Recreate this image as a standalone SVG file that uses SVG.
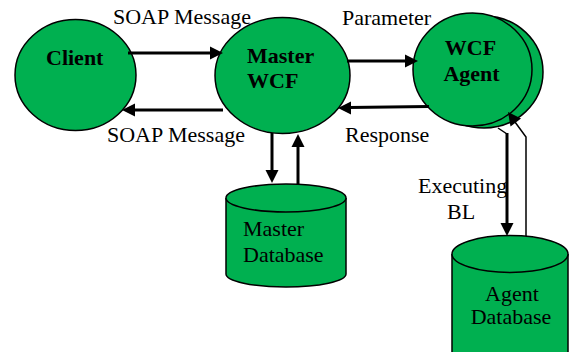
<svg xmlns="http://www.w3.org/2000/svg" width="572" height="352" viewBox="0 0 572 352">
  <style>
    .node { fill: #00b050; stroke: #000; stroke-width: 1.5; }
    .bold { font-family: "Liberation Serif", "Times New Roman", serif; font-size: 22px; font-weight: bold; fill: #000; }
    .lbl { font-family: "Liberation Serif", "Times New Roman", serif; font-size: 22px; fill: #000; }
    .wire { stroke: #000; stroke-width: 3; fill: none; }
    .thin { stroke: #000; stroke-width: 1.5; fill: none; }
    .head { fill: #000; }
  </style>

  <!-- Nodes -->
  <g id="client">
    <ellipse class="node" cx="75.5" cy="75" rx="60.5" ry="55.5"/>
    <text class="bold" x="46" y="65">Client</text>
  </g>

  <g id="master-wcf">
    <ellipse class="node" cx="282.5" cy="75.5" rx="67.5" ry="58"/>
    <text class="bold" x="247" y="63">Master</text>
    <text class="bold" x="247" y="88">WCF</text>
  </g>

  <g id="wcf-agent">
    <!-- stacked circle behind the front one -->
    <ellipse class="node" cx="484" cy="72" rx="59" ry="56"/>
    <ellipse class="node" cx="472.5" cy="69.5" rx="59.5" ry="56.5"/>
    <text class="bold" x="470.5" y="55" text-anchor="middle">WCF</text>
    <text class="bold" x="471.5" y="81" text-anchor="middle">Agent</text>
  </g>

  <g id="master-database">
    <path class="node" d="M226,198 L226,274 A60,13 0 0 0 346,274 L346,198 A60,14 0 0 0 226,198 Z"/>
    <path class="node" fill="none" d="M226,198 A60,14 0 0 0 346,198"/>
    <text class="lbl" x="243" y="236">Master</text>
    <text class="lbl" x="243" y="262">Database</text>
  </g>

  <g id="agent-database">
    <!-- runs past the bottom edge of the canvas -->
    <path class="node" d="M452,254 L452,362 L568,362 L568,254 A58,18.5 0 0 0 452,254 Z"/>
    <path class="node" fill="none" d="M452,254 A58,18.5 0 0 0 568,254"/>
    <text class="lbl" x="512" y="301" text-anchor="middle">Agent</text>
    <text class="lbl" x="511" y="324" text-anchor="middle">Database</text>
  </g>

  <!-- Connectors -->
  <g id="connectors">
    <!-- Client -> Master WCF -->
    <line class="wire" x1="128" y1="53" x2="211" y2="53"/>
    <polygon class="head" points="223,53 210,46.5 210,59.5"/>
    <!-- Master WCF -> Client -->
    <line class="wire" x1="223" y1="110" x2="134" y2="110"/>
    <polygon class="head" points="122,110 135,103.5 135,116.5"/>
    <!-- Master WCF -> WCF Agent -->
    <line class="wire" x1="347" y1="61" x2="406" y2="61"/>
    <polygon class="head" points="418,61 405,54.5 405,67.5"/>
    <!-- WCF Agent -> Master WCF -->
    <line class="wire" x1="429" y1="106.5" x2="349" y2="107.5"/>
    <polygon class="head" points="338,108 351,101.5 351,114.5"/>
    <!-- Master WCF -> Master Database -->
    <line class="wire" x1="272" y1="133" x2="272" y2="171"/>
    <polygon class="head" points="272,183 265.5,170 278.5,170"/>
    <!-- Master Database -> Master WCF -->
    <line class="wire" x1="298" y1="184" x2="298" y2="146"/>
    <polygon class="head" points="298,134 291.5,147 304.5,147"/>
    <!-- WCF Agent -> Agent Database -->
    <line class="thin" x1="498" y1="128" x2="507" y2="134"/>
    <line class="wire" x1="507" y1="133" x2="507" y2="224"/>
    <polygon class="head" points="507,236 500.5,223 513.5,223"/>
    <!-- Agent Database -> WCF Agent -->
    <polyline class="thin" points="526,236 526,137 515,122"/>
    <polygon class="head" points="508,112 510.5,126.5 521,118.5"/>
  </g>

  <!-- Message labels -->
  <g id="labels">
    <text class="lbl" x="113" y="24">SOAP Message</text>
    <text class="lbl" x="107" y="142">SOAP Message</text>
    <text class="lbl" x="342" y="25">Parameter</text>
    <text class="lbl" x="345" y="142">Response</text>
    <text class="lbl" x="418" y="193">Executing</text>
    <text class="lbl" x="447" y="219">BL</text>
  </g>
</svg>
